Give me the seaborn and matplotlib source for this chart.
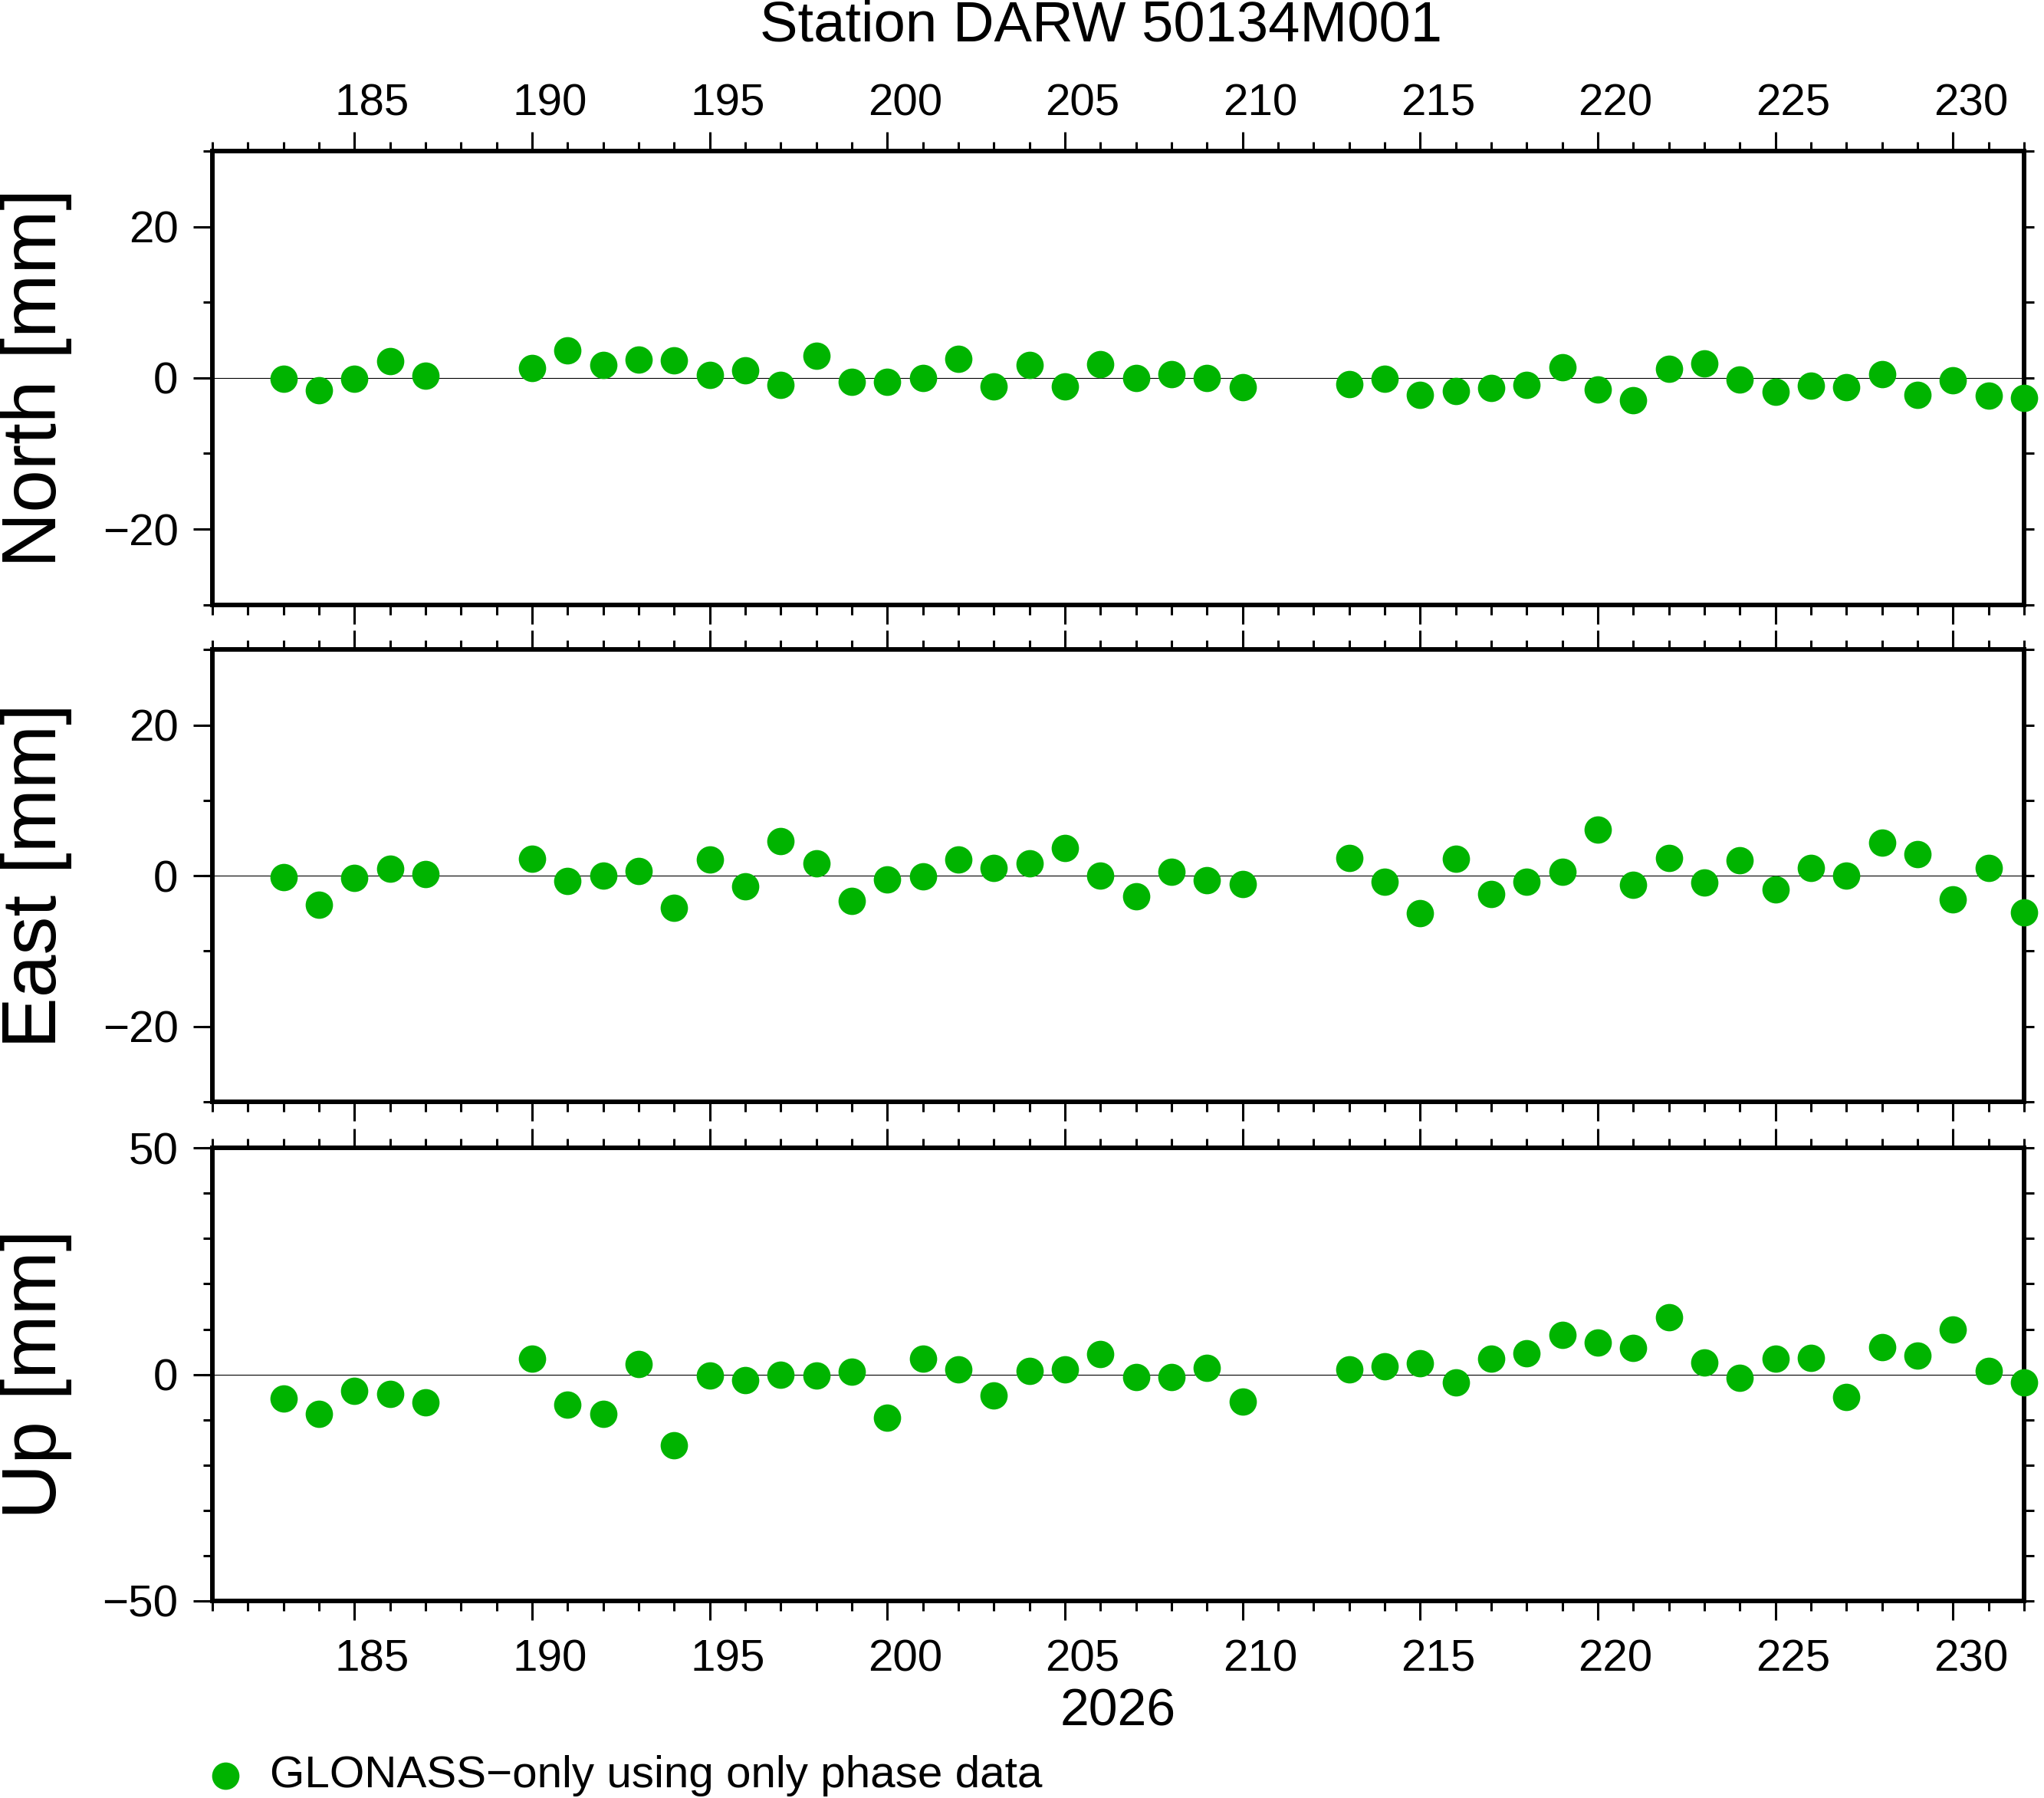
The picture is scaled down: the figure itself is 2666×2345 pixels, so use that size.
import numpy as np
import pandas as pd
import matplotlib
matplotlib.use("Agg")
import matplotlib.pyplot as plt
import matplotlib.transforms as mtransforms
from matplotlib.ticker import MultipleLocator
import seaborn as sns

# ---------------- data ----------------
days = [183, 184, 185, 186, 187,
        190, 191, 192, 193, 194, 195, 196, 197, 198, 199, 200,
        201, 202, 203, 204, 205, 206, 207, 208, 209, 210,
        213, 214, 215, 216, 217, 218, 219, 220, 221, 222,
        223, 224, 225, 226, 227, 228, 229, 230, 231, 232]

north = [-0.1, -1.6, -0.1, 2.2, 0.3,
         1.3, 3.6, 1.7, 2.4, 2.3, 0.4, 1.0, -0.9, 2.9, -0.5, -0.5,
         0.0, 2.5, -1.1, 1.7, -1.1, 1.8, 0.0, 0.5, 0.0, -1.2,
         -0.8, -0.1, -2.2, -1.7, -1.3, -0.9, 1.4, -1.5, -2.9, 1.2,
         1.9, -0.2, -1.8, -1.0, -1.2, 0.5, -2.2, -0.3, -2.3, -2.6]

east = [-0.2, -3.9, -0.3, 0.9, 0.2,
        2.3, -0.7, 0.0, 0.6, -4.3, 2.2, -1.4, 4.6, 1.6, -3.3, -0.5,
        -0.1, 2.2, 1.0, 1.6, 3.7, 0.0, -2.7, 0.5, -0.6, -1.1,
        2.4, -0.8, -5.0, 2.3, -2.4, -0.8, 0.5, 6.1, -1.2, 2.4,
        -0.9, 2.0, -1.8, 1.0, 0.0, 4.4, 2.9, -3.1, 1.0, -4.9]

up = [-5.3, -8.7, -3.6, -4.3, -6.1,
      3.5, -6.6, -8.7, 2.3, -15.7, -0.3, -1.2, -0.1, -0.2, 0.6, -9.6,
      3.5, 1.1, -4.6, 0.8, 1.1, 4.5, -0.5, -0.6, 1.4, -6.0,
      1.2, 1.8, 2.4, -1.8, 3.5, 4.6, 8.7, 7.0, 5.8, 12.6,
      2.6, -0.8, 3.5, 3.6, -5.0, 6.0, 4.1, 9.9, 0.8, -1.7]

components = ["North", "East", "Up"]
ylabels = ["North [mm]", "East [mm]", "Up [mm]"]
ylims = [(-30, 30), (-30, 30), (-50, 50)]
ymajor = [20, 20, 50]
yminor = [10, 10, 10]
xlim = (181, 232)
xmajor_ticks = [185, 190, 195, 200, 205, 210, 215, 220, 225, 230]
title = "Station DARW 50134M001"
year_label = "2026"
legend_label = "GLONASS\u2212only using only phase data"

df = pd.DataFrame({"day": days, "North": north, "East": east, "Up": up})

# ---------------- style ----------------
sns.set_style("white")
plt.rcParams["font.family"] = ["Liberation Sans", "DejaVu Sans"]
plt.rcParams["axes.unicode_minus"] = True
plt.rcParams["text.color"] = "black"
plt.rcParams["axes.labelcolor"] = "black"
plt.rcParams["xtick.color"] = "black"
plt.rcParams["ytick.color"] = "black"

GREEN = "#00b400"
FRAME_LW = 4.3
TICK_W = 2.2
MAJ_LEN = 18
MIN_LEN = 9

fig = plt.figure(figsize=(26.66, 23.45), dpi=100)
rects = [
    [0.1039, 0.6637, 0.8863, 0.2522],
    [0.1039, 0.3873, 0.8863, 0.2513],
    [0.1039, 0.1096, 0.8863, 0.2519],
]
xpads = [7, 14, 17.5]

axes = []
for i, comp in enumerate(components):
    ax = fig.add_axes(rects[i])
    axes.append(ax)
    ax.axhline(0, color="black", lw=0.8, zorder=1)
    sns.scatterplot(data=df, x="day", y=comp, ax=ax, color=GREEN, s=660,
                    linewidth=0, clip_on=False, zorder=5,
                    label=legend_label if i == 2 else None, legend=False)
    ax.set_xlim(*xlim)
    ax.set_ylim(*ylims[i])
    for sp in ax.spines.values():
        sp.set_linewidth(FRAME_LW)
        sp.set_color("black")
        sp.set_zorder(3)
    ax.set_xticks(xmajor_ticks)
    ax.xaxis.set_minor_locator(MultipleLocator(1))
    ax.yaxis.set_major_locator(MultipleLocator(ymajor[i]))
    ax.yaxis.set_minor_locator(MultipleLocator(yminor[i]))
    ax.yaxis.remove_overlapping_locs = False

    ax.tick_params(axis="both", which="both", direction="out", width=TICK_W,
                   colors="black", labelsize=42)
    ax.tick_params(axis="both", which="major", length=MAJ_LEN)
    ax.tick_params(axis="y", which="major", pad=14)
    ax.tick_params(axis="x", which="major", pad=xpads[i])
    ax.tick_params(axis="both", which="minor", length=MIN_LEN)
    ax.tick_params(axis="x", which="both", top=True, bottom=True,
                   labeltop=(i == 0), labelbottom=(i == 2))
    ax.tick_params(axis="y", which="major", left=True, right=False)
    ax.tick_params(axis="y", which="minor", left=True, right=True)

    ax.set_ylabel(ylabels[i], fontsize=72, va="baseline", color="black")
    ax.yaxis.set_label_coords(-0.0863, 0.5)
    if i == 2:
        ax.set_xlabel(year_label, fontsize=49, va="baseline", color="black")
        ax.xaxis.set_label_coords(0.5, -0.2758)
    else:
        ax.set_xlabel("")

# shift day labels to the middle of each day interval
half_day_in = (rects[0][2] * 26.66) / (xlim[1] - xlim[0]) / 2.0
offset = mtransforms.ScaledTranslation(half_day_in, 0, fig.dpi_scale_trans)
for ax in axes:
    for lab in ax.xaxis.get_majorticklabels():
        lab.set_transform(lab.get_transform() + offset)

fig.text(0.5386, 1 - 53 / 2345, title, ha="center", va="baseline",
         fontsize=53.5, color="black")

handles, labels = axes[2].get_legend_handles_labels()
leg = fig.legend(handles, labels, loc="center left",
                 bbox_to_anchor=(271 / 2666, 1 - 2316 / 2345),
                 frameon=False, borderpad=0, borderaxespad=0,
                 handlelength=0.8, handletextpad=0.59, fontsize=42,
                 scatterpoints=1)
for t in leg.get_texts():
    t.set_color("black")

fig.savefig("out.png", dpi=100)
